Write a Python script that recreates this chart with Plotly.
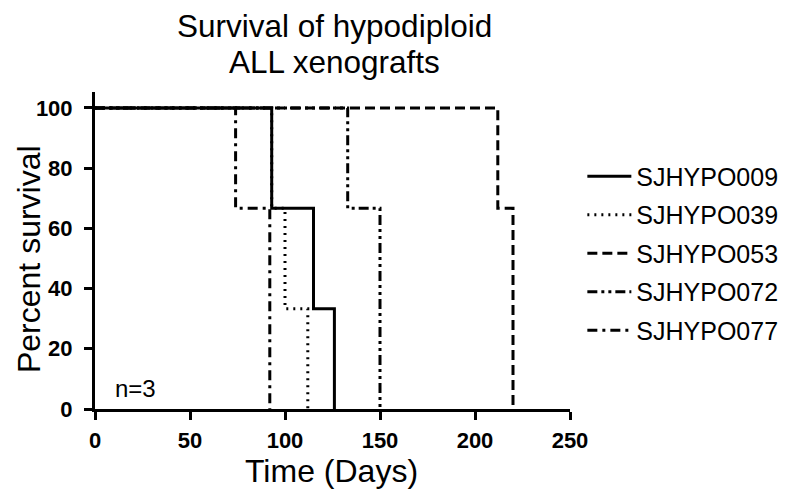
import plotly.graph_objects as go

names = ["SJHYPO009", "SJHYPO039", "SJHYPO053", "SJHYPO072", "SJHYPO077"]
times = [
    [0, 93, 115, 126],
    [0, 93, 100, 112],
    [0, 212, 220],
    [0, 133, 150],
    [0, 74, 92],
]
survival = [
    [100, 66.67, 33.33, 0],
    [100, 66.67, 33.33, 0],
    [100, 66.67, 0],
    [100, 66.67, 0],
    [100, 66.67, 0],
]
dashes = ["solid", "2px,5px", "10px,5px", "10px,4px,3px,4px,3px,4px", "10px,5px,3px,5px"]
x_ticks = [0, 50, 100, 150, 200, 250]
y_ticks = [0, 20, 40, 60, 80, 100]
title_lines = ["Survival of hypodiploid", "ALL xenografts"]
x_title = "Time (Days)"
y_title = "Percent survival"

font = "Liberation Sans, Arial, sans-serif"
fig = go.Figure()
for i, n in enumerate(names):
    fig.add_trace(go.Scatter(
        x=times[i], y=survival[i], name=n, mode="lines",
        line=dict(shape="hv", color="black", width=3, dash=dashes[i]),
        legendgroup=n,
    ))

axis_common = dict(showgrid=False, zeroline=False, automargin=False,
                   showline=True, linecolor="black", linewidth=3, ticks="outside",
                   ticklen=8, tickwidth=3, tickcolor="black",
                   tickfont=dict(size=22, family=font, weight="bold"))

fig.update_layout(
    width=800, height=499,
    paper_bgcolor="white", plot_bgcolor="white",
    margin=dict(l=95, r=230, t=92, b=90, autoexpand=False),
    font=dict(family=font, color="black"),
    xaxis=dict(range=[0, 250], tickvals=x_ticks, ticklabelstandoff=2, **axis_common),
    yaxis=dict(range=[0, 105.3], tickvals=y_ticks, ticklabelstandoff=7, **axis_common),
    legend=dict(x=1.026, xanchor="left", y=0.806, yanchor="top", itemwidth=44,
                font=dict(size=25), tracegroupgap=3, bgcolor="rgba(0,0,0,0)"),
    showlegend=True,
)
fig.add_annotation(text=title_lines[0], x=0.504, y=1.208, xref="paper", yref="paper",
                   xanchor="center", yanchor="middle", showarrow=False, font=dict(size=31.5))
fig.add_annotation(text=title_lines[1], x=0.504, y=1.095, xref="paper", yref="paper",
                   xanchor="center", yanchor="middle", showarrow=False, font=dict(size=31.5))
fig.add_annotation(text=x_title, x=0.497, y=-0.195, xref="paper", yref="paper",
                   xanchor="center", yanchor="middle", showarrow=False, font=dict(size=32))
fig.add_annotation(text=y_title, x=-0.139, y=0.473, xref="paper", yref="paper",
                   xanchor="center", yanchor="middle", textangle=-90, showarrow=False,
                   font=dict(size=32))
fig.add_annotation(text="n=3", x=0.038, y=0.066, xref="paper", yref="paper",
                   xanchor="left", yanchor="middle", showarrow=False,
                   font=dict(size=24))
fig.write_html("out.html", config={"displayModeBar": False},
               post_script="document.body.style.margin='0';")
